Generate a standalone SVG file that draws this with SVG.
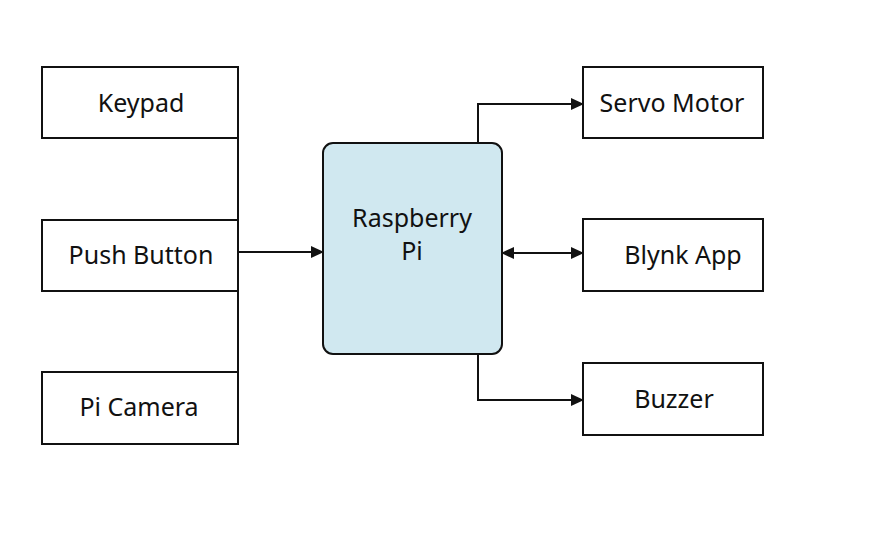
<svg xmlns="http://www.w3.org/2000/svg" width="874" height="543" viewBox="0 0 874 543">
<style>
.box{fill:#fff;stroke:#111;stroke-width:2}
.pi{fill:#d0e8f0;stroke:#111;stroke-width:2}
.t{font-family:"Noto Sans",sans-serif;font-size:25px;fill:#111;text-anchor:middle}
.c{fill:none;stroke:#111;stroke-width:2}
</style>
<defs>
<marker id="ah" markerWidth="13" markerHeight="12" refX="12" refY="6" orient="auto-start-reverse" markerUnits="userSpaceOnUse">
<path d="M0,0 L13,6 L0,12 Z" fill="#111"/>
</marker>
</defs>
<rect width="874" height="543" fill="#fff"/>
<g id="connectors">
<path class="c" d="M238,138 V372"/>
<path class="c" d="M238,252 H323" marker-end="url(#ah)"/>
<path class="c" d="M478,143 V104 H583" marker-end="url(#ah)"/>
<path class="c" d="M502,253 H583" marker-start="url(#ah)" marker-end="url(#ah)"/>
<path class="c" d="M478,354 V400 H583" marker-end="url(#ah)"/>
</g>
<g id="keypad"><rect class="box" x="42" y="67" width="196" height="71"/><text class="t" x="141" y="112">Keypad</text></g>
<g id="pushbutton"><rect class="box" x="42" y="220" width="196" height="71"/><text class="t" x="141" y="264">Push Button</text></g>
<g id="picamera"><rect class="box" x="42" y="372" width="196" height="72"/><text class="t" x="139" y="416">Pi Camera</text></g>
<g id="raspberrypi"><rect class="pi" x="323" y="143" width="179" height="211" rx="10"/><text class="t" x="412" y="227">Raspberry</text><text class="t" x="412" y="260">Pi</text></g>
<g id="servomotor"><rect class="box" x="583" y="67" width="180" height="71"/><text class="t" x="672" y="112">Servo Motor</text></g>
<g id="blynkapp"><rect class="box" x="583" y="219" width="180" height="72"/><text class="t" x="683" y="264">Blynk App</text></g>
<g id="buzzer"><rect class="box" x="583" y="363" width="180" height="72"/><text class="t" x="674" y="408">Buzzer</text></g>
</svg>
